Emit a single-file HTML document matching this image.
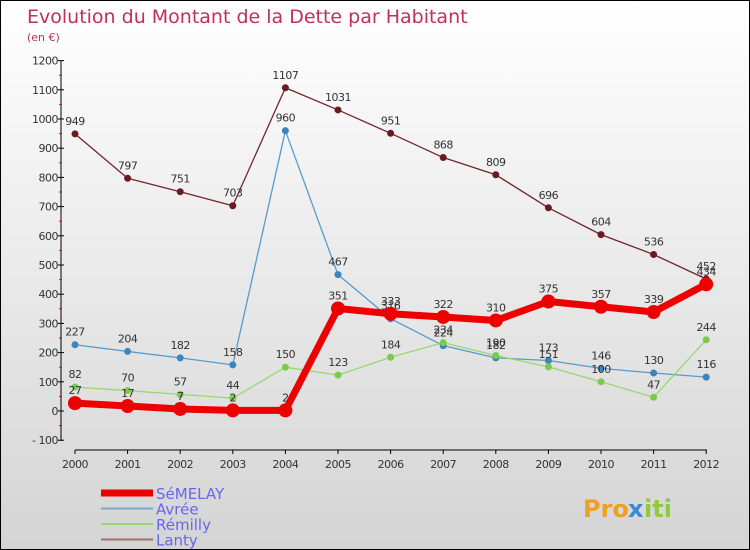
<!DOCTYPE html>
<html><head><meta charset="utf-8"><style>
body{margin:0}
#c{width:748px;height:548px;border:1px solid #000;background:linear-gradient(#fff,#d4d4d4);position:relative;overflow:hidden;font-family:"DejaVu Sans","Liberation Sans",sans-serif}
</style></head><body>
<div id="c">
<svg id="s" width="748" height="548" style="position:absolute;left:0;top:0"></svg>
</div>
<script>
const years=["2000","2001","2002","2003","2004","2005","2006","2007","2008","2009","2010","2011","2012"];
const semelay=[27,17,7,2,2,351,333,322,310,375,357,339,434];
const avree=[227,204,182,158,960,467,316,224,182,173,146,130,116];
const remilly=[82,70,57,44,150,123,184,234,190,151,100,47,244];
const lanty=[949,797,751,703,1107,1031,951,868,809,696,604,536,452];
const yTicks=[-100,0,100,200,300,400,500,600,700,800,900,1000,1100,1200];
const NS="http://www.w3.org/2000/svg";
const s=document.getElementById('s');
const X=i=>74+i*52.6;
const Y=v=>410-v*0.292;
function el(t,a,p){const e=document.createElementNS(NS,t);for(const k in a)e.setAttribute(k,a[k]);(p||s).appendChild(e);return e;}
function txt(x,y,t,a){const e=el('text',Object.assign({x:x,y:y},a));e.textContent=t;return e;}
let e=txt(26,22,"Evolution du Montant de la Dette par Habitant",{fill:"#c0305a","font-size":19});

e=txt(26,40,"(en €)",{fill:"#c0305a","font-size":11});

// axes
e=el('line',{x1:60,y1:60,x2:60,y2:440,stroke:"#000"});

e=el('line',{x1:74,y1:449,x2:706,y2:449,stroke:"#000"});

yTicks.forEach(v=>{
 el('line',{x1:57,y1:Y(v),x2:63,y2:Y(v),stroke:"#000"});
 if(v<1200) el('line',{x1:58,y1:Y(v+50),x2:61,y2:Y(v+50),stroke:"#e00"});
 e=txt(57,Y(v)+4,v<0?"- "+(-v):String(v),{"text-anchor":"end","font-size":11,fill:"#333","letter-spacing":"-0.5"});
 
});
years.forEach((y,i)=>{
 el('line',{x1:X(i),y1:449,x2:X(i),y2:453,stroke:"#000"});
 e=txt(X(i),467,y,{"text-anchor":"middle","font-size":11,fill:"#333","letter-spacing":"-0.5"});
 
});
function series(vals,color,w,r,dot,name){
 const g=el('g',{});
 
 el('polyline',{points:vals.map((v,i)=>X(i)+","+Y(v)).join(" "),fill:"none",stroke:color,"stroke-width":w,"stroke-linejoin":"round"},g);
 vals.forEach((v,i)=>{
  const c=el('circle',{cx:X(i),cy:Y(v),r:r,fill:dot},g);
  
  const t=txt(X(i),Y(v)-9,String(v),{"text-anchor":"middle","font-size":11,fill:"#333","letter-spacing":"-0.5"});
  g.appendChild(t);
 });
}
series(avree,"#5a9ac8",1.3,3.5,"#3a85c0","avree");
series(remilly,"#98d870",1.3,3.5,"#7acc48","remilly");
series(lanty,"#70262a",1.3,3.5,"#6a1a20","lanty");
series(semelay,"#ee0000",7,7,"#ee0000","semelay");
const leg=[["SéMELAY","#ee0000",7],["Avrée","#7aaac8",2],["Rémilly","#98d870",2],["Lanty","#a07070",2]];
leg.forEach((l,i)=>{
 const y=492+i*15.5;
 const g=el('g',{});
 
 el('line',{x1:100,y1:y,x2:152,y2:y,stroke:l[1],"stroke-width":l[2]},g);
 const t=txt(155,y+6,l[0],{"font-size":15,fill:"#6666ee"});g.appendChild(t);
});
e=txt(582,516,"Pro",{"font-size":24,"font-weight":"bold",fill:"#f0a020"});

txt(627,516,"x",{"font-size":24,"font-weight":"bold",fill:"#3a8ad0"});
txt(643,516,"iti",{"font-size":24,"font-weight":"bold",fill:"#90c840"});
</script>
</body></html>
